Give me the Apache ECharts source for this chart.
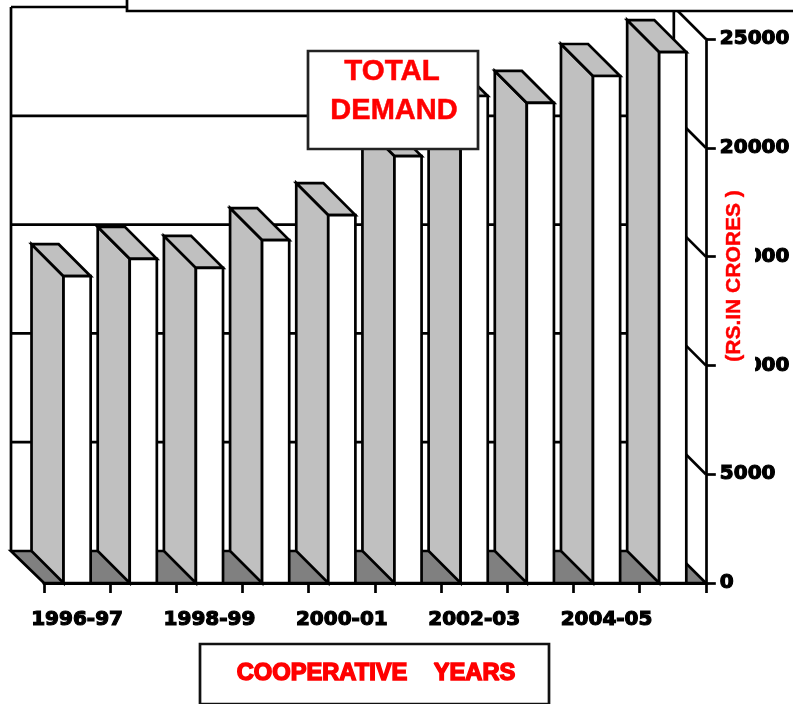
<!DOCTYPE html>
<html>
<head>
<meta charset="utf-8">
<title>Total demand</title>
<script src="https://cdn.jsdelivr.net/npm/echarts@6/dist/echarts.min.js"></script>
<style>
  html, body { margin: 0; padding: 0; background: #fff; }
  #chart { width: 793px; height: 704px; }
</style>
</head>
<body>
<div id="chart"></div>
<script>
const years = ['1996-97', '1997-98', '1998-99', '1999-00', '2000-01', '2001-02', '2002-03', '2003-04', '2004-05', '2005-06'];
const demand = [14100, 14900, 14480, 15760, 16910, 19620, 22380, 22060, 23300, 24400];
const yTicks = [0, 5000, 10000, 15000, 20000, 25000];

// 3d depth of the chart box, in px
const depthX = 32;
const depthY = 32;
const black = '#000';
const lineStyle = { stroke: black, lineWidth: 2.7, lineJoin: 'miter' };

const poly = (points, fill) => ({
  type: 'polygon',
  shape: { points },
  style: Object.assign({ fill }, lineStyle)
});
const seg = (x1, y1, x2, y2) => ({
  type: 'line',
  shape: { x1, y1, x2, y2 },
  style: lineStyle
});

// back wall, left edge and floor
const renderWall = (params) => {
  const c = params.coordSys;
  const bottom = c.y + c.height;
  return {
    type: 'group',
    children: [
      seg(c.x - depthX - 1, bottom - depthY, c.x - depthX - 1, c.y - depthY),
      seg(c.x + c.width - depthX, bottom - depthY, c.x + c.width - depthX, c.y - depthY),
      poly([
        [c.x, bottom],
        [c.x - depthX - 1, bottom - depthY],
        [c.x + c.width - depthX, bottom - depthY],
        [c.x + c.width, bottom]
      ], '#808080')
    ]
  };
};

// one gridline on the back wall and its diagonal on the right side wall
const renderGrid = (params, api) => {
  const c = params.coordSys;
  const y = api.coord([0, api.value(0)])[1];
  if (api.value(0) === 0) return { type: 'group', children: [] };
  return {
    type: 'group',
    children: [
      seg(c.x - depthX - 1, y - depthY, c.x + c.width - depthX, y - depthY),
      seg(c.x + c.width - depthX, y - depthY, c.x + c.width, y)
    ]
  };
};

const renderBar = (params, api) => {
  const p = api.coord([api.value(0), api.value(1)]);
  const base = api.coord([api.value(0), 0]);
  const w = api.size([1, 0])[0] * 0.41;
  const l = p[0] - w / 2;
  const r = p[0] + w / 2;
  return {
    type: 'group',
    children: [
      // left side
      poly([[l, base[1]], [l - depthX, base[1] - depthY], [l - depthX, p[1] - depthY], [l, p[1]]], '#c0c0c0'),
      // top
      poly([[l, p[1]], [l - depthX, p[1] - depthY], [r - depthX, p[1] - depthY], [r, p[1]]], '#c0c0c0'),
      // front
      poly([[l, base[1]], [l, p[1]], [r, p[1]], [r, base[1]]], '#fff')
    ]
  };
};

const chart = echarts.init(document.getElementById('chart'), null, { renderer: 'canvas' });
chart.setOption({
  animation: false,
  backgroundColor: '#fff',
  grid: { left: 44, right: 86, top: 39, bottom: 121 },
  xAxis: {
    type: 'category',
    data: years,
    axisLine: { lineStyle: { color: black, width: 3 } },
    axisTick: { show: true, interval: 0, length: 10, lineStyle: { color: black, width: 2.7 } },
    axisLabel: {
      interval: 1,
      margin: 27,
      color: black,
      fontFamily: 'DejaVu Sans',
      fontWeight: 'bold',
      fontSize: 20,
      textBorderColor: black,
      textBorderWidth: 1.2
    }
  },
  yAxis: {
    type: 'value',
    position: 'right',
    min: 0,
    max: 25000,
    interval: 5000,
    splitLine: { show: false },
    axisLine: { show: true, lineStyle: { color: black, width: 2.7 } },
    axisTick: { show: true, length: 10, lineStyle: { color: black, width: 2.7 } },
    axisLabel: {
      margin: 14,
      color: black,
      fontFamily: 'DejaVu Sans',
      fontWeight: 'bold',
      fontSize: 20,
      textBorderColor: black,
      textBorderWidth: 1.2,
      formatter: (v) => String(v)
    }
  },
  series: [
    { type: 'custom', coordinateSystem: 'cartesian2d', renderItem: renderWall, data: [[0]], z: 1, silent: true },
    { type: 'custom', coordinateSystem: 'cartesian2d', renderItem: renderGrid, data: yTicks.map(v => [v]), encode: { y: 0 }, z: 2, silent: true },
    { type: 'custom', coordinateSystem: 'cartesian2d', renderItem: renderBar, data: demand.map((v, i) => [i, v]), encode: { x: 0, y: 1 }, z: 3, silent: true }
  ],
  graphic: [
    // box that cuts off the top of the wall
    { type: 'rect', z: 100, shape: { x: 127, y: -10, width: 700, height: 21 }, style: { fill: '#fff', stroke: black, lineWidth: 2.7 } },
    // white band behind the rotated axis title, it hides part of two tick labels
    { type: 'rect', z: 100, shape: { x: 716, y: 185, width: 39, height: 195 }, style: { fill: '#fff' } },
    {
      type: 'text', z: 101, x: 734, y: 276, rotation: Math.PI / 2,
      style: { text: '(RS.IN CRORES )', fill: '#f00', stroke: '#f00', lineWidth: 0.4, font: 'bold 21px "Liberation Sans"', align: 'center', verticalAlign: 'middle' }
    },
    { type: 'rect', z: 100, shape: { x: 308, y: 51, width: 170, height: 98 }, style: { fill: '#fff', stroke: '#222', lineWidth: 2.7 } },
    {
      type: 'text', z: 101, x: 392, y: 72,
      style: { text: 'TOTAL', fill: '#f00', stroke: '#f00', lineWidth: 0.5, font: 'bold 29.5px "Liberation Sans"', align: 'center', verticalAlign: 'middle' }
    },
    {
      type: 'text', z: 101, x: 394, y: 111,
      style: { text: 'DEMAND', fill: '#f00', stroke: '#f00', lineWidth: 0.5, font: 'bold 29px "Liberation Sans"', align: 'center', verticalAlign: 'middle' }
    },
    { type: 'rect', z: 100, shape: { x: 200, y: 644, width: 349, height: 60 }, style: { fill: '#fff', stroke: '#111', lineWidth: 2.7 } },
    {
      type: 'text', z: 101, x: 376, y: 673,
      style: { text: 'COOPERATIVE    YEARS', fill: '#f00', stroke: '#f00', lineWidth: 1.5, font: 'bold 23.7px "Liberation Sans"', align: 'center', verticalAlign: 'middle' }
    }
  ]
});
</script>
</body>
</html>
